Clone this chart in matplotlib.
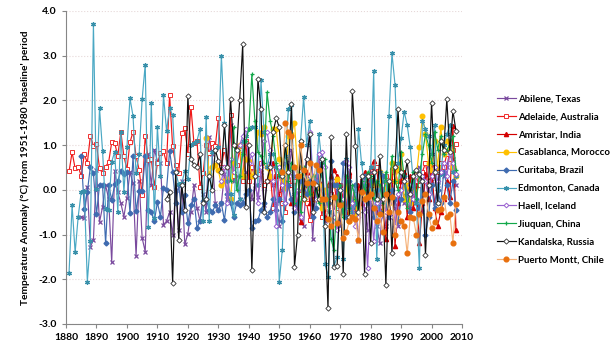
import numpy as np
import matplotlib
matplotlib.use("Agg")
import matplotlib.pyplot as plt

plt.rcParams['font.family'] = ['Lato', 'DejaVu Sans']

# anomalias anuais (°C), por estacao
abilene_ini = 1885
abilene = [-0.6, -0.62, 0.07, -1.27, -1.12, 0.45, -0.72, -0.38, 0.1, -0.2,
           -1.62, 0.42, -0.05, -0.3, -0.6, -0.18, 0.4, 0.15, -1.48, 0.2,
           -1.08, -1.38, 0.8, 0.1, 0.9, 0.65, 0.6, -0.78, -0.7, -0.5,
           -1.0, 0.0, -0.9, 0.2, -1.22, -0.98, -0.5, 0.1, -0.4, -0.7,
           -0.1, -0.5, 1.18, 0.8, -0.3, -0.45, -0.3, 0.35, -0.2, 1.45,
           0.2, 0.3, -0.2, 1.0, 0.4, 0.3, -0.2, 0.1, -0.15, 0.4,
           -0.35, 0.2, 0.6, 0.1, -0.3, -0.8, 0.0, 0.6, 0.3, 0.9,
           0.3, -0.4, -0.7, -0.8, 0.3, 0.1, -1.1, 0.2, 0.8, -0.3,
           -0.7, -0.5, -0.3, -0.4, 0.0, -0.8, -0.3, 0.3, -0.5, -0.2,
           -0.3, -1.15, -0.1, -0.4, -0.9, 0.4, -0.4, -0.8, -1.2, -0.3,
           -0.8, -0.5, 0.2, -0.4, -0.8, 0.4, -0.3, 0.0, -0.4, 0.2,
           -0.3, 0.5, -0.5, 0.3, 0.6, 0.2, -0.3, 0.1, 0.5, 0.3,
           0.5, 0.9, 0.7, 0.1]

adelaide_ini = 1881
adelaide = [0.41, 0.84, 0.48, 0.52, 0.31, 0.8, 0.6, 1.21, 0.98, 1.03,
            0.48, 0.37, 0.52, 0.62, 1.06, 1.04, 0.76, 1.3, 0.75, 0.46,
            1.06, 1.3, 0.75, 0.45, -0.11, 1.21, 0.67, 0.69, 0.07, 0.6,
            0.82, 0.86, 0.6, 2.13, 0.97, 0.56, 0.37, 1.27, 1.38, 0.8,
            1.86, 1.04, 1.1, 0.07, 0.37, 1.0, 0.82, 1.04, 0.97, 1.6,
            0.52, 0.9, 0.5, 1.68, 0.3, 0.55, 0.9, 0.2, 1.1, 0.2,
            0.5, 0.3, 0.35, 0.6, 0.1, 0.2, 0.4, -0.4, 0.3, -0.1,
            -0.3, -0.5, 0.4, 0.1, 0.2, -0.3, -0.1, 0.3, -0.3, -0.68,
            0.2, -0.2, 0.1, -0.6, 0.0, -0.3, -0.1, 0.2, -0.4, 0.1,
            -0.2, -0.5, 0.3, -0.3, -0.1, -0.4, 0.2, 0.0, -0.2, 0.3,
            0.1, 0.5, -0.3, -0.1, 0.3, -0.2, 0.4, 0.5, 0.1, 0.2,
            0.3, -0.2, 0.0, 0.2, 0.3, 0.1, 0.4, 0.6, 0.2, 0.3,
            0.5, 0.4, 0.6, 0.5, 0.8, 0.7, 0.9, 1.02]

amristar_ini = 1948
amristar = [0.6, 0.3, -0.2, 0.4, 0.2, 0.1, -0.3, -0.3, 0.5, -0.72,
            0.1, 0.4, -0.3, -0.2, 0.3, 0.2, -0.1, -0.6, 0.1, 0.3,
            0.45, 0.3, 0.1, -0.3, -0.5, 0.4, -0.4, -0.6, 0.1, -0.3,
            0.4, 0.1, 0.5, 0.65, -0.5, 0.3, -0.4, -1.1, 0.0, 0.5,
            -1.25, -0.3, 0.2, 0.4, -0.6, 0.3, -0.4, 0.1, -1.2, -0.3,
            0.35, -0.2, 0.5, -0.4, -0.8, -0.5, -0.2, 0.2, -0.15, 1.42, -0.9]

casablanca_ini = 1926
casablanca = [1.15, 0.35, 0.5, 0.55, 0.45, 0.1, 0.2, 0.25, -0.2, 0.6,
              0.95, 1.0, 0.3, 0.7, 0.65, 0.3, 0.4, 1.3, 1.25, 1.4,
              0.5, 0.3, 1.35, 1.35, 0.7, 0.25, 0.05, 1.2, 1.25, 1.5,
              0.5, 0.3, -0.2, 0.2, -0.1, 0.3, -0.2, 0.1, -0.4, 0.0,
              -0.3, 0.1, 0.1, 0.25, -0.3, -0.5, 0.1, -0.7, -0.2, -0.6,
              -0.4, 0.0, -0.2, 0.0, -0.15, 0.2, -0.2, 0.4, -0.5, 0.1,
              -0.3, 0.6, 0.2, 0.45, 0.8, -0.2, 0.1, -0.3, 0.0, 0.3,
              0.95, 1.65, 1.25, 0.6, 0.45, 1.1, 0.5, 1.4, 0.8, 1.1,
              0.9, 0.5, 0.3]

curitaba_ini = 1885
curitaba = [0.75, -0.42, -0.05, 0.52, 0.37, -0.55, 0.1, 0.1, -1.2, 0.1,
            -0.22, 0.12, 0.2, 0.42, 0.35, 0.4, -0.52, 0.75, -0.48, -0.03,
            -0.03, 0.75, -0.45, -0.5, -0.7, -0.28, -0.6, 0.05, 0.0, 0.87,
            0.4, -0.3, 0.1, -0.5, -0.12, -0.75, -0.35, -0.2, -0.85, -0.7,
            -0.25, -0.2, -0.45, -0.5, -0.35, -0.45, -0.3, -0.68, -0.1, -0.3,
            -0.6, -0.3, -0.35, -0.3, -0.1, 0.0, -0.85, -0.7, -0.68, -0.45,
            -0.3, -0.6, -0.5, -0.2, -0.45, -0.2, -0.7, -0.3, 0.1, -0.2,
            -0.5, -0.3, 0.2, 0.1, -0.1, 0.2, -0.6, -0.4, 0.3, 0.7,
            -0.3, -0.3, 0.65, 0.1, 0.1, -0.5, 0.6, -0.6, 0.2, -0.4,
            0.1, -0.5, -0.2, 0.3, -0.3, 0.2, -0.6, 0.0, -0.5, 0.3,
            -0.3, -0.6, 0.0, -0.2, -0.7, -0.2, 0.3, -0.1, -0.5, 0.1,
            -0.2, -0.4, 0.2, -1.0, -0.6, 0.1, -0.4, 0.0, -0.3, 0.4,
            0.1, -0.3, 0.2, -0.45]

edmonton_ini = 1881
edmonton = [-1.85, -0.35, -1.4, -0.6, -0.05, -0.03, -2.05, -1.15, 3.71, 0.02,
            1.82, 0.87, -0.43, -0.45, 0.63, 0.85, -0.5, 1.3, -0.05, 0.95,
            2.05, 1.65, 0.37, 0.8, 2.03, 2.8, -0.82, 1.95, -0.62, 1.4,
            0.3, 2.12, 1.32, 1.82, 1.67, 0.4, 0.12, 0.15, 0.42, 0.25,
            1.0, 1.05, 1.1, 1.37, -0.7, 1.62, -0.7, 0.85, 0.9, 0.95,
            3.0, 1.5, 0.2, -0.1, -0.57, 0.9, -0.2, 1.1, 1.2, 1.35,
            1.4, 1.4, 0.1, 2.45, 1.3, 0.5, 0.8, 0.8, 0.5, -2.05,
            -1.35, 0.75, 1.8, 1.9, -0.1, 0.3, 1.1, 2.08, 1.0, 1.55,
            0.3, 0.2, 1.25, 0.6, -1.65, -1.95, -0.5, -1.7, -1.5, 0.0,
            -1.55, 0.7, 0.2, -0.5, -0.3, 1.35, 0.6, 0.1, 0.3, 0.5,
            2.65, -1.55, 0.4, 0.2, -0.4, 1.65, 3.05, 2.35, 0.6, 1.15,
            1.75, 1.45, 0.95, 0.2, -0.3, -1.75, 1.55, 1.35, 1.2, 0.8,
            1.45, -0.3, 0.35, 1.0, 1.25, 1.45, 0.4, 0.3]

haell_ini = 1931
haell = [0.2, 0.5, -0.3, 0.7, 0.4, 0.9, 1.0, 1.2, 1.35, 0.6,
         0.8, 0.3, -0.3, 0.5, 1.1, 1.3, 0.9, 0.2, -0.8, 0.5,
         0.1, -0.3, 0.6, 0.4, -0.4, 0.0, -0.6, 0.3, 0.7, 1.3,
         0.2, -0.2, 0.8, 0.85, 0.5, -0.4, 0.2, -0.6, -0.9, -0.4,
         -0.2, 0.65, 0.5, -0.3, -0.8, -0.6, 0.2, -0.5, -1.75, -0.2,
         -1.15, -0.3, -0.6, 0.1, -0.5, -0.3, -0.6, -0.8, -0.1, 0.0,
         0.2, -0.3, 0.1, -0.2, 0.3, 0.45, 0.3, 0.2, -0.1, 0.3,
         0.5, 0.2, 0.4, 0.6, 0.3, 0.8, 0.6, 0.35]

jiuquan_ini = 1934
jiuquan = [0.2, 1.4, 0.0, 0.3, 0.8, 1.1, 1.35, 2.58, 1.55, 0.85,
           0.75, 0.6, 2.18, 1.55, 1.2, 0.6, 0.3, 0.55, 1.0, 0.2,
           0.6, -0.3, 0.4, -0.5, 0.5, 0.2, -0.1, 0.3, 0.0, -0.3,
           0.6, 0.7, -0.2, -1.1, -1.35, -0.2, 0.1, -0.6, 0.3, -0.4,
           0.1, -0.2, -0.5, 0.2, 0.0, 0.4, 0.3, -0.2, 0.2, 0.1,
           -0.3, 0.4, -0.2, 0.75, 0.2, 0.0, 0.85, 0.3, -0.4, 0.0,
           0.4, -0.2, 0.3, 0.8, 1.25, 1.0, 0.6, 1.3, 0.9, 1.2,
           0.8, 0.9, 1.0, 1.2, 0.45]

kandalska_ini = 1913
kandalska = [-0.2, -0.05, -2.08, 0.4, -1.12, 0.1, -0.45, 2.1, 0.7, 0.55,
             0.5, 0.8, -0.3, -0.2, 0.3, 0.0, 0.9, 0.65, 0.4, 1.45,
             0.5, 2.03, 1.0, 0.9, 2.0, 3.25, -0.38, 1.0, -1.8, 0.3,
             2.48, 1.8, -0.5, 0.2, 0.5, 1.3, 1.6, 1.4, 0.3, 1.0,
             0.4, 1.92, -1.72, -1.0, 1.1, -0.2, 0.7, 1.25, -0.5, 0.1,
             -0.2, 0.7, -0.8, -2.65, 1.18, -1.72, -1.7, 0.0, -1.88, 1.25,
             -0.6, 2.2, 0.97, -0.5, 0.3, -1.88, 0.3, -1.2, 0.4, -0.2,
             0.75, -0.2, -2.12, 0.2, -1.42, 0.5, 1.8, 0.4, 0.2, 0.65,
             -0.1, 0.3, 0.45, 0.35, 0.2, -1.45, 0.1, 1.95, 0.4, -0.3,
             1.1, 0.9, 2.02, 0.85, 1.77, 1.32]

pmontt_ini = 1951
pmontt = [0.4, 1.5, 1.3, 1.2, 0.5, 0.3, 1.0, 0.45, 0.15, 0.6,
          0.15, 0.55, 0.45, -0.2, -0.2, -0.65, -0.8, -0.15, -0.75, -0.35,
          -1.08, -0.95, -0.7, -0.6, -0.65, -1.12, -0.05, -0.2, -0.15, -0.1,
          -0.4, -0.7, -0.55, -0.95, -0.1, -0.5, -0.15, -1.0, -0.5, -0.7,
          -0.8, -1.42, -0.6, -0.62, -1.0, -0.55, -0.25, -0.1, -0.55, -0.85,
          -0.72, -0.45, -0.42, -0.15, -0.6, -0.55, -1.18, -0.32]

xticks = list(range(1880, 2011, 10))
yticks = [-3, -2, -1, 0, 1, 2, 3, 4]


def anos(ini, vals):
    return np.arange(ini, ini + len(vals))


fig = plt.figure(figsize=(6.14, 3.59), dpi=100)
ax = fig.add_axes([0.1075, 0.0975, 0.645, 0.872])

ms = 3.0
lw = 0.85
ax.plot(anos(abilene_ini, abilene), abilene, color='#7A4A9E', lw=lw, marker='x', ms=ms,
        mew=0.9, label='Abilene, Texas')
ax.plot(anos(adelaide_ini, adelaide), adelaide, color='#F01818', lw=lw, marker='s', ms=ms + 0.5,
        mfc='white', mec='#F03030', mew=0.7, label='Adelaide, Australia')
ax.plot(anos(amristar_ini, amristar), amristar, color='#D40000', lw=lw, marker='^', ms=ms,
        label='Amristar, India')
ax.plot(anos(casablanca_ini, casablanca), casablanca, color='#FFC000', lw=lw, marker='o', ms=ms + 0.3,
        label='Casablanca, Morocco')
ax.plot(anos(curitaba_ini, curitaba), curitaba, color='#3F6BB0', lw=lw, marker='D', ms=ms - 0.5,
        label='Curitaba, Brazil')
ax.plot(anos(edmonton_ini, edmonton), edmonton, color='#4AA8C4', lw=lw, marker=(6, 2, 0), ms=ms + 0.4,
        mec='#3890AA', mew=0.9, label='Edmonton, Canada')
ax.plot(anos(haell_ini, haell), haell, color='#9A62D0', lw=lw, marker='D', ms=ms - 0.6,
        mfc='white', mec='#9A62D0', mew=0.7, label='Haell, Iceland')
ax.plot(anos(jiuquan_ini, jiuquan), jiuquan, color='#12A84A', lw=lw, marker='+', ms=ms + 0.5,
        mew=0.9, label='Jiuquan, China')
ax.plot(anos(kandalska_ini, kandalska), kandalska, color='#101010', lw=lw, marker='D', ms=ms - 0.3,
        mfc='white', mec='#303030', mew=0.6, label='Kandalska, Russia')
ax.plot(anos(pmontt_ini, pmontt), pmontt, color='#F5B27A', lw=lw, marker='o', ms=ms + 0.4,
        mfc='#E8700E', mec='#E8700E', label='Puerto Montt, Chile')

ax.set_xlim(1880, 2010)
ax.set_ylim(-3, 4)
ax.set_xticks(xticks)
ax.set_yticks(yticks)
ax.set_yticklabels(['%.1f' % v for v in yticks])
ax.tick_params(labelsize=7.5, length=3, color='#868686', width=0.8)
for lab in ax.get_xticklabels() + ax.get_yticklabels():
    lab.set_fontweight('bold')
ax.grid(axis='y', color='#E6D8D8', linestyle=':', linewidth=0.8)
ax.set_axisbelow(True)
for s in ['top', 'right']:
    ax.spines[s].set_visible(False)
for s in ['left', 'bottom']:
    ax.spines[s].set_color('#868686')
    ax.spines[s].set_linewidth(0.8)

ax.set_ylabel("Temperature Anomaly (°C) from 1951-1980 'baseline' period",
              fontsize=7.3, fontweight='bold', labelpad=6)

fig.legend(loc='upper left', bbox_to_anchor=(0.803, 0.748), frameon=False,
           prop={'size': 6.9, 'weight': 'bold'}, handlelength=2.0, handletextpad=0.2,
           labelspacing=0.93, borderaxespad=0)

plt.savefig('out.png', dpi=100)
